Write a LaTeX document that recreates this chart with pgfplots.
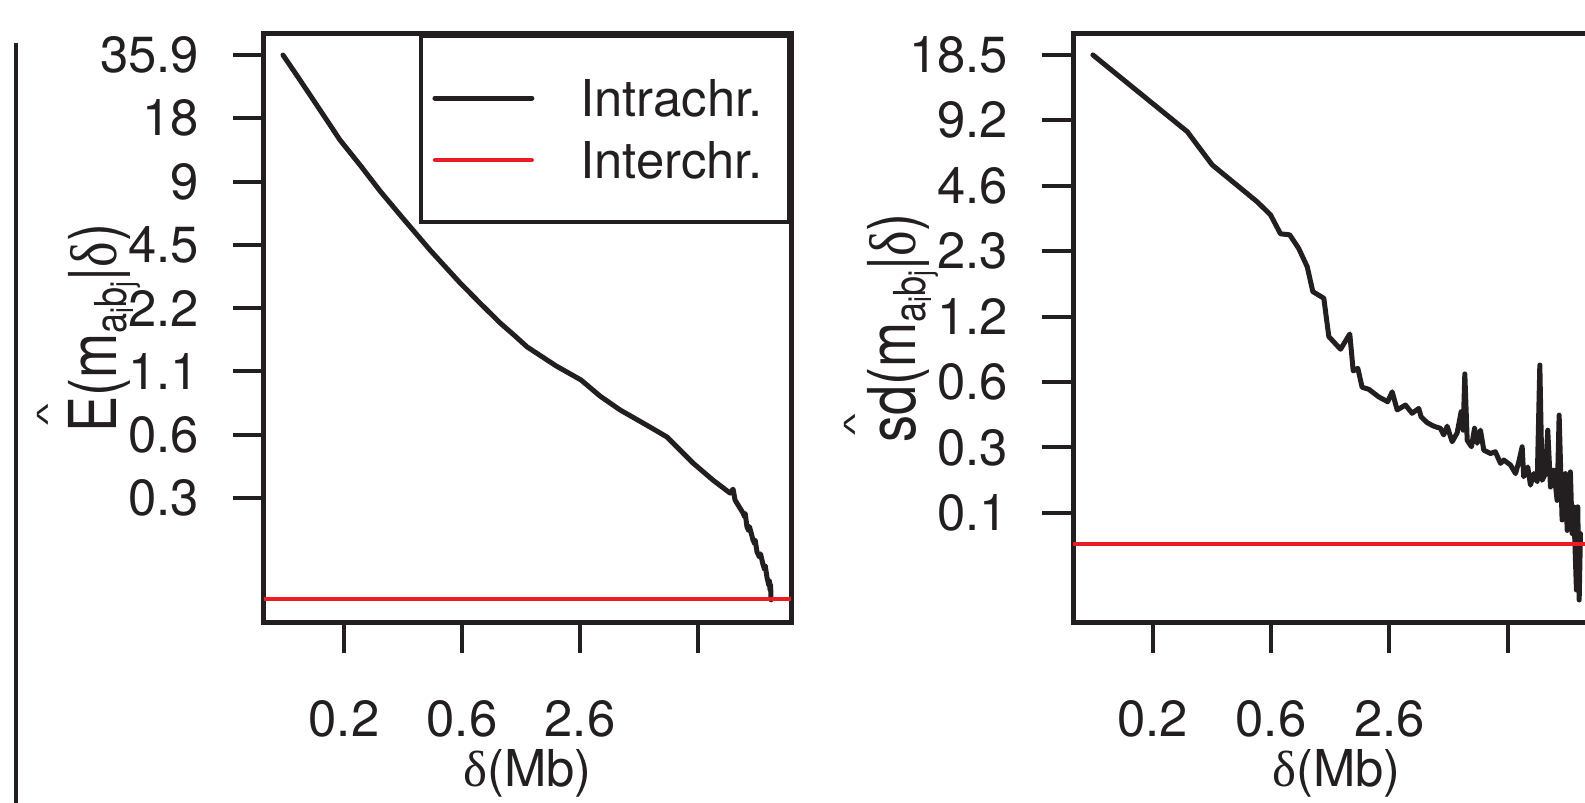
\documentclass[border=0pt]{standalone}
\usepackage{fontspec}
\setmainfont{TeX Gyre Heros}
\newfontfamily\grk{Liberation Serif}
\newfontfamily\lsans{Liberation Sans}
\usepackage{graphicx}
\usepackage{pgfplots}
\pgfplotsset{compat=1.18}
\definecolor{rred}{RGB}{237,28,36}
\definecolor{rblk}{RGB}{35,31,32}
\newcommand{\tickfont}{\fontsize{12.7}{15}\selectfont}
\newcommand{\labfont}{\fontsize{16.5}{19}\selectfont}
% #1 raise, #2 extra shift along text, #3 text below the hat
\newcommand{\hatover}[3]{\setbox0=\hbox{#3}\rlap{\hbox to \wd0{\hss\kern#2\raisebox{#1}{\scalebox{1}[0.55]{\lsans\fontsize{14}{14}\selectfont\textasciicircum}}\hss}}\box0}
\newcommand{\ssub}[2]{\raisebox{-2.6pt}{\fontsize{11}{10}\selectfont #1\raisebox{-1.6pt}{\fontsize{8}{8}\selectfont #2}}}

\pgfplotstableread{
x y
0.483 35.9
0.627 27.30
0.797 19.66
0.966 14.15
1.136 10.76
1.305 8.10
1.475 6.23
1.729 4.24
1.983 2.96
2.153 2.37
2.322 1.91
2.449 1.655
2.551 1.468
2.797 1.192
3.008 1.022
3.169 0.857
3.339 0.736
3.593 0.610
3.737 0.547
3.958 0.411
4.127 0.341
4.271 0.296
4.297 0.309
4.314 0.274
4.381 0.238
4.395 0.228
4.400 0.236
4.415 0.204
4.430 0.196
4.436 0.205
4.466 0.177
4.480 0.170
4.485 0.176
4.500 0.155
4.520 0.147
4.530 0.152
4.551 0.135
4.565 0.128
4.570 0.133
4.585 0.117
4.600 0.108
4.605 0.113
4.610 0.1026
4.615 0.108
4.619 0.0919
}\intraL

\pgfplotstableread{
x y
0.497 18.5
1.293 8.21
1.504 5.77
1.884 3.90
1.996 3.40
2.080 2.78
2.158 2.75
2.234 2.38
2.306 1.96
2.353 1.507
2.446 1.404
2.488 0.936
2.587 0.818
2.665 0.962
2.694 0.650
2.733 0.668
2.769 0.547
2.826 0.535
2.909 0.494
2.985 0.469
3.023 0.521
3.065 0.430
3.135 0.453
3.191 0.415
3.247 0.437
3.267 0.400
3.318 0.376
3.374 0.362
3.430 0.354
3.458 0.330
3.487 0.362
3.529 0.307
3.571 0.337
3.605 0.422
3.622 0.347
3.636 0.630
3.656 0.312
3.692 0.291
3.718 0.354
3.740 0.302
3.768 0.347
3.796 0.281
3.852 0.271
3.894 0.276
3.937 0.244
3.965 0.253
4.021 0.240
4.064 0.219
4.091 0.248
4.120 0.291
4.133 0.212
4.167 0.235
4.190 0.194
4.218 0.219
4.247 0.201
4.269 0.692
4.288 0.204
4.316 0.219
4.336 0.347
4.359 0.190
4.387 0.227
4.415 0.165
4.432 0.407
4.457 0.134
4.485 0.219
4.500 0.120
4.527 0.223
4.542 0.116
4.555 0.154
4.578 0.0638
4.589 0.154
4.601 0.0574
4.612 0.116
}\intraR

\pgfplotsset{
  rstyle/.style={
    anchor=south west, width=131.75pt, height=147pt, scale only axis,
    xtick={1,2,3,4}, xticklabels={0.2,0.6,2.6,{}},
    tick align=outside, tick pos=left, major tick length=7.75pt,
    yminorticks=false, xminorticks=false,
    axis line style={line width=1.25pt, rblk},
    every tick/.style={line width=1pt, rblk},
    xticklabel style={font=\tickfont, anchor=north, inner sep=0pt, yshift=-11.75pt, text=rblk},
    yticklabel style={font=\tickfont, anchor=east, inner sep=0pt, xshift=-8.25pt, text=rblk},
    xlabel style={font=\tickfont, anchor=base, inner sep=0pt, text=rblk},
    ylabel style={font=\labfont, anchor=base, inner sep=0pt, text=rblk},
  }
}

\begin{document}
\begin{tikzpicture}
\path[use as bounding box] (0,0) rectangle (396.25pt,200.75pt);
\clip (0,0) rectangle (396.25pt,200.75pt);
\draw[rblk, line width=0.8pt] (4pt,-1pt) -- (4pt,190pt);

\begin{axis}[ymode=log, rstyle,
  at={(66pt,45.25pt)},
  xmin=0.322, xmax=4.788, ymin=0.0721, ymax=45.2,
  ytick={35.9,17.95,8.975,4.4875,2.24375,1.121875,0.5609375,0.28046875},
  yticklabels={35.9,18,9,4.5,2.2,1.1,0.6,0.3},
  xlabel={{\grk δ}(Mb)},
  ylabel={\scalebox{0.82}[1]{\hatover{14.5pt}{0pt}{E}(m\ssub{a}{i}\ssub{b}{j}|{\grk δ})}},
  xlabel style={at={(axis description cs:0.5,-0.2806)}},
  ylabel style={at={(axis description cs:-0.280,0.5)}},
  legend cell align=left,
  legend style={at={(1,1)}, anchor=north east, draw=rblk, line width=1.1pt,
    font=\tickfont, text=rblk, inner xsep=2.9pt, inner ysep=10.9pt,
    row sep=6.3pt, column sep=11.5pt,
    nodes={inner sep=0pt, text height=9.2pt, text depth=0pt, text width=49.2pt},
    cells={anchor=west}},
  legend image code/.code={\draw[#1] (0pt,0pt) -- (24.25pt,0pt);},
]
\addplot[rblk, line width=1.25pt, line cap=round, line join=round] table {\intraL};
\addlegendentry{Intrachr.}
\addplot[rred, line width=1pt, line cap=round] coordinates {(0.322,0.093) (4.788,0.093)};
\addlegendentry{Interchr.}
\end{axis}

\begin{axis}[ymode=log, rstyle,
  at={(268.25pt,45.25pt)},
  xmin=0.329, xmax=4.777, ymin=0.04546, ymax=23.1,
  ytick={18.5,9.25,4.625,2.3125,1.15625,0.578125,0.2890625,0.14453125},
  yticklabels={18.5,9.2,4.6,2.3,1.2,0.6,0.3,0.1},
  xlabel={{\grk δ}(Mb)},
  ylabel={\scalebox{0.82}[1]{\hatover{12.5pt}{2.5pt}{s}d(m\ssub{a}{i}\ssub{b}{j}|{\grk δ})}},
  xlabel style={at={(axis description cs:0.5,-0.2806)}},
  ylabel style={at={(axis description cs:-0.2998,0.5)}},
]
\addplot[rblk, line width=1.25pt, line cap=round, line join=round] table {\intraR};
\addplot[rred, line width=1pt] coordinates {(0.329,0.1036) (4.777,0.1036)};
\end{axis}
\end{tikzpicture}
\end{document}
